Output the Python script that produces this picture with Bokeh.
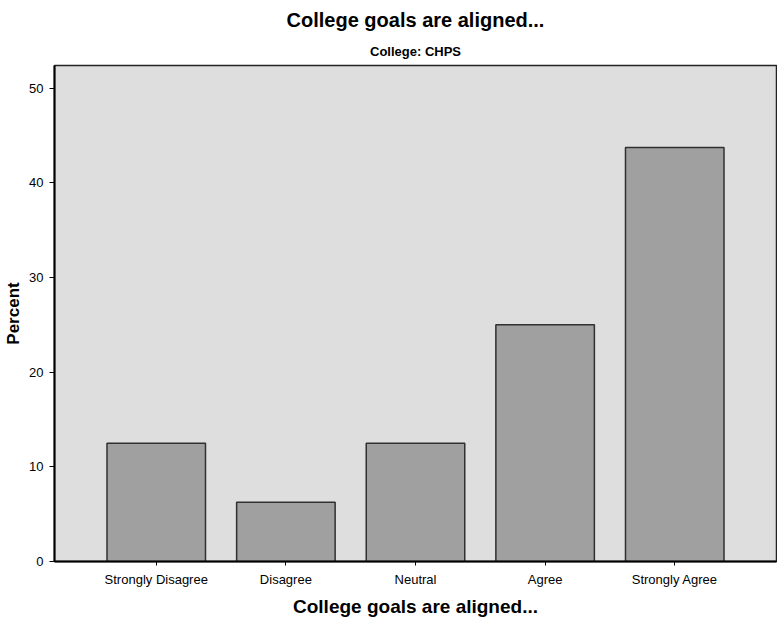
from bokeh.plotting import figure
from bokeh.models import FactorRange, Range1d, FixedTicker, Title
from bokeh.embed import file_html
from bokeh.resources import INLINE

categories = ["Strongly Disagree", "Disagree", "Neutral", "Agree", "Strongly Agree"]
percents = [12.5, 6.25, 12.5, 25.0, 43.75]
y_ticks = [0, 10, 20, 30, 40, 50]

FONT = "Liberation Sans"

p = figure(
    width=777, height=620,
    x_range=FactorRange(*categories, range_padding=0.285, range_padding_units="absolute"),
    y_range=Range1d(0, 52.4),
    output_backend="svg", toolbar_location=None,
    min_border_left=54, min_border_right=1, min_border_top=65, min_border_bottom=59,
)
p.title = None
p.add_layout(Title(text="College: CHPS", align="center", text_font=FONT, text_color="black",
                   text_font_size="13px", text_font_style="bold", standoff=13, offset=0), "above")
p.add_layout(Title(text="College goals are aligned...", align="center", text_font=FONT, text_color="black",
                   text_font_size="20px", text_font_style="bold", standoff=10), "above")

p.background_fill_color = "#dedede"
p.border_fill_color = "white"
p.outline_line_color = "#222222"
p.outline_line_width = 1.5
p.grid.visible = False

p.vbar(x=categories, top=percents, width=0.76, fill_color="#a0a0a0",
       line_color="#303030", line_width=1.5)

p.yaxis.ticker = FixedTicker(ticks=y_ticks)
p.yaxis.minor_tick_line_color = None
p.yaxis.major_tick_out = 5
p.yaxis.major_tick_in = 0
p.yaxis.axis_line_width = 2
p.yaxis.axis_line_color = "black"
p.yaxis.axis_label = "Percent"
p.yaxis.axis_label_text_font = FONT
p.yaxis.axis_label_text_color = "black"
p.yaxis.axis_label_text_font_size = "17px"
p.yaxis.axis_label_text_font_style = "bold"
p.yaxis.axis_label_standoff = 3
p.yaxis.major_label_text_font = FONT
p.yaxis.major_label_text_color = "black"
p.yaxis.major_label_text_font_size = "13px"
p.yaxis.major_label_standoff = 6

p.xaxis.axis_label = "College goals are aligned..."
p.xaxis.axis_label_text_font = FONT
p.xaxis.axis_label_text_color = "black"
p.xaxis.axis_label_text_font_size = "19px"
p.xaxis.axis_label_text_font_style = "bold"
p.xaxis.axis_label_standoff = 6
p.xaxis.major_label_text_font = FONT
p.xaxis.major_label_text_color = "black"
p.xaxis.major_label_text_font_size = "13px"
p.xaxis.major_label_standoff = 6
p.xaxis.major_tick_out = 4
p.xaxis.major_tick_in = 0
p.xaxis.axis_line_width = 2
p.xaxis.axis_line_color = "black"

open("out.html", "w").write(file_html(p, INLINE))
